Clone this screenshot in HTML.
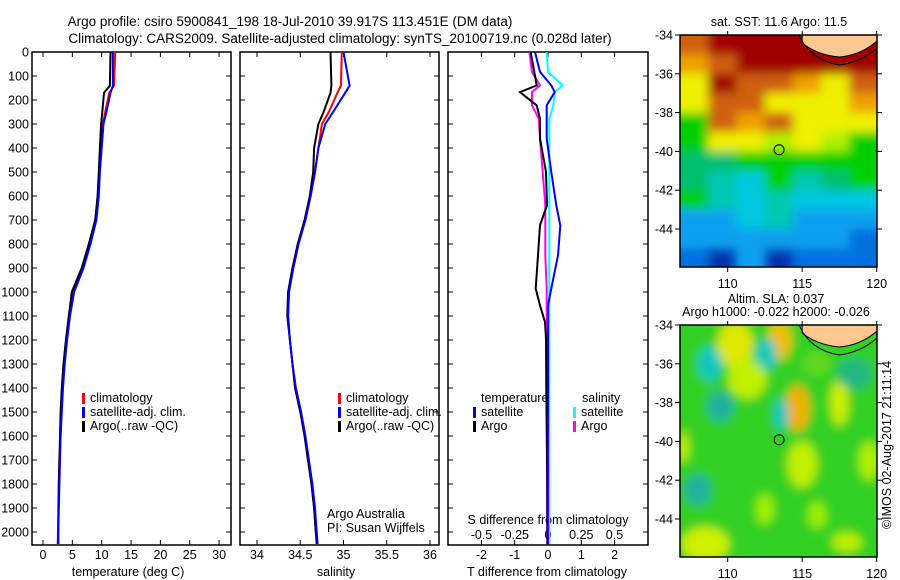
<!DOCTYPE html>
<html><head><meta charset="utf-8"><style>
body{margin:0;background:#fff;}
svg{display:block;font-family:"Liberation Sans",sans-serif;}
</style></head><body>
<svg id="chart" width="900" height="580" viewBox="0 0 900 580" xmlns="http://www.w3.org/2000/svg">
<defs>
<filter id="blur1" x="0" y="0" width="100%" height="100%"><feGaussianBlur stdDeviation="5"/></filter>
<filter id="blur2" x="-20%" y="-20%" width="140%" height="140%"><feGaussianBlur stdDeviation="5"/></filter>
<clipPath id="m1c"><rect x="680" y="35" width="197" height="232"/></clipPath>
<clipPath id="m2c"><rect x="680" y="325" width="197" height="232"/></clipPath>
</defs>
<text x="290" y="26" font-size="13.5" text-anchor="middle">Argo profile: csiro 5900841_198 18-Jul-2010 39.917S 113.451E (DM data)</text>
<text x="340" y="43" font-size="13.5" text-anchor="middle">Climatology: CARS2009. Satellite-adjusted climatology: synTS_20100719.nc (0.028d later)</text>
<g id="g"></g>
</svg>
<script>
// ---- data ----
const depths = [0,140,170,250,300,400,500,600,700,800,900,1000,1100,1200,1300,1400,1500,1600,1700,1800,1900,2000,2050];
const tempArgo = [11.5,11.4,10.4,10.1,9.9,9.7,9.5,9.3,8.9,7.8,6.6,4.9,4.4,3.9,3.5,3.2,3.0,2.9,2.8,2.7,2.65,2.6,2.6];
const tempClim = [12.3,12.1,11.3,10.6,10.2,9.9,9.6,9.4,9.0,8.0,6.8,5.1,4.5,4.0,3.6,3.3,3.1,3.0,2.8,2.7,2.6,2.55,2.5];
const tempSat  = [11.9,11.9,11.5,10.8,10.3,10.0,9.7,9.5,9.1,8.1,6.9,5.3,4.6,4.1,3.7,3.4,3.2,3.0,2.9,2.8,2.7,2.6,2.6];
const salArgo = [34.85,34.86,34.85,34.77,34.71,34.66,34.65,34.61,34.55,34.47,34.41,34.36,34.35,34.38,34.41,34.44,34.50,34.55,34.59,34.63,34.66,34.68,34.69];
const salClim = [34.98,34.97,34.93,34.83,34.75,34.71,34.67,34.62,34.56,34.48,34.42,34.37,34.36,34.38,34.41,34.44,34.50,34.55,34.59,34.63,34.66,34.68,34.70];
const salSat  = [35.0,35.07,35.02,34.88,34.79,34.71,34.67,34.62,34.56,34.48,34.42,34.37,34.36,34.38,34.41,34.45,34.51,34.56,34.60,34.64,34.67,34.69,34.70];
const diffDepths = [0,83,139,167,222,278,361,500,639,722,847,986,1056,1125,1194,1400,1700,2050];
const dTempArgo = [-0.52,-0.41,-0.34,-0.84,-0.34,-0.24,-0.24,-0.06,-0.03,-0.24,-0.3,-0.37,-0.24,-0.09,-0.06,-0.05,-0.03,-0.02];
const dTempSat  = [-0.39,-0.24,0.1,0.2,-0.04,-0.04,-0.04,0.1,0.25,0.37,0.3,0.1,0.0,0.0,0.0,0.0,-0.01,-0.01];
const dSalArgo  = [-0.14,-0.12,-0.06,-0.12,-0.12,-0.07,-0.06,-0.04,-0.02,-0.02,-0.02,-0.01,-0.01,-0.01,-0.01,0,0,0];
const dSalSat   = [-0.01,0.0,0.11,0.05,0.04,0.01,0.01,0.01,0.01,0.01,0.01,0.01,0.01,0.01,0.01,0.01,0.01,0.01];
const depthTicks = [0,100,200,300,400,500,600,700,800,900,1000,1100,1200,1300,1400,1500,1600,1700,1800,1900,2000];
const tempTicks = [0,5,10,15,20,25,30];
const salTicks = [34,34.5,35,35.5,36];
const tdTicks = [-2,-1,0,1,2];
const sdTicks = [-0.5,-0.25,0,0.25,0.5];
const sdTickLabels = ["-0.5","-0.25","0","0.25","0.5"];
const lonTicks = [110,115,120];
const latTicks = [-34,-36,-38,-40,-42,-44];
const argoLon = 113.451, argoLat = -39.917;

// ---- helpers ----
const NS="http://www.w3.org/2000/svg";
const G=document.getElementById('g');
function mk(tag,attrs,parent){const e=document.createElementNS(NS,tag);for(const k in attrs)e.setAttribute(k,attrs[k]);(parent||G).appendChild(e);return e;}
const TOP=52, BOT=545;
const yD = d => TOP + d*0.24;
const xT = t => 43 + t*5.87;
const xS = s => 257 + (s-34)*86.5;
const xTD = t => 548 + t*33.3;
const xSD = s => 548 + s*133;

function panel(x0,x1,name){
  const r=mk('rect',{x:x0,y:TOP,width:x1-x0,height:BOT-TOP,fill:'none',stroke:'#000','stroke-width':1.5});
  
  
}
panel(32,231,'temperature-panel');
panel(240,439,'salinity-panel');
panel(448,648,'difference-panel');

depthTicks.forEach(d=>{
  const y=yD(d);
  const t=mk('text',{x:29,y:y+4.5,'font-size':12.5,'text-anchor':'end'});
  t.textContent=d;
  
  
  [[32,37],[226,231],[240,245],[434,439],[448,453],[643,648]].forEach(p=>mk('line',{x1:p[0],x2:p[1],y1:y,y2:y,stroke:'#000'}));
});
function xticks(ticks,fx,labels,ly){
  ticks.forEach((v,i)=>{
    const x=fx(v);
    mk('line',{x1:x,x2:x,y1:BOT,y2:BOT-5,stroke:'#000'});
    mk('line',{x1:x,x2:x,y1:TOP,y2:TOP+5,stroke:'#000'});
    const t=mk('text',{x:x,y:ly,'font-size':12.5,'text-anchor':'middle'});
    t.textContent=labels?labels[i]:v;
    
    
  });
}
xticks(tempTicks,xT,null,559);
xticks(salTicks,xS,null,559);
xticks(tdTicks,xTD,null,559);
sdTicks.forEach((v,i)=>{
  const t=mk('text',{x:xSD(v),y:539,'font-size':12.5,'text-anchor':'middle'});
  t.textContent=sdTickLabels[i];
  
  
});
function label(txt,x,y,name,anchor){
  const t=mk('text',{x:x,y:y,'font-size':12.5,'text-anchor':anchor||'middle'});
  t.textContent=txt;
  
  
  return t;
}
label('temperature (deg C)',128,576,'x-axis-title-temperature');
label('salinity',336,576,'x-axis-title-salinity');
label('T difference from climatology',547,576,'x-axis-title-t-diff');
label('S difference from climatology',548,524,'x-axis-title-s-diff');
label('Argo Australia',327,518,'credit-argo-australia','start');
label('PI: Susan Wijffels',327,532,'credit-pi','start');

function line(xs,ds,fx,color,name,w){
  const pts=xs.map((v,i)=>fx(v).toFixed(1)+','+yD(ds[i]).toFixed(1)).join(' ');
  const p=mk('polyline',{points:pts,fill:'none',stroke:color,'stroke-width':w||2,'stroke-linejoin':'miter'});
  
  
}
line(tempClim,depths,xT,'#f00','temp-climatology-line');
line(tempArgo,depths,xT,'#000','temp-argo-line');
line(tempSat,depths,xT,'#00f','temp-satellite-line');
line(salClim,depths,xS,'#f00','sal-climatology-line');
line(salArgo,depths,xS,'#000','sal-argo-line');
line(salSat,depths,xS,'#00f','sal-satellite-line');
line(dSalSat,diffDepths,xSD,'#0ff','sdiff-satellite-line');
line(dSalArgo,diffDepths,xSD,'#f0f','sdiff-argo-line');
line(dTempArgo,diffDepths,xTD,'#000','tdiff-argo-line');
line(dTempSat,diffDepths,xTD,'#00f','tdiff-satellite-line');

function legend(x,y,color,txt,name){
  mk('rect',{x:x,y:y-9,width:3,height:11,fill:color});
  label(txt,x+8,y,name,'start');
}
legend(82,402,'#f00','climatology','legend-climatology');
legend(82,416,'#00f','satellite-adj. clim.','legend-satellite-adj');
legend(82,430,'#000','Argo(..raw -QC)','legend-argo');
legend(338,402,'#f00','climatology','legend2-climatology');
legend(338,416,'#00f','satellite-adj. clim.','legend2-satellite-adj');
legend(338,430,'#000','Argo(..raw -QC)','legend2-argo');
label('temperature',481,402,'legend-temperature-header','start');
label('salinity',582,402,'legend-salinity-header','start');
legend(473,416,'#00f','satellite','legend-t-satellite');
legend(473,430,'#000','Argo','legend-t-argo');
legend(573,416,'#0ff','satellite','legend-s-satellite');
legend(573,430,'#f0f','Argo','legend-s-argo');

// ---- maps ----
const C={R:'#a00000',O:'#d06010',A:'#f0a000',Y:'#f0f000',L:'#b0f000',G:'#00d000',E:'#00c070',T:'#00c8b0',C:'#00c8e0',B:'#10a0f0',U:'#0070e0',D:'#0030b0'};
const sstGrid=["ORRRRRR","AORRRRR","YROOAYO","YOOYYYA","GOAOYYY","GYYLYLG","EEGGGGG","ETCGTEG","GTCTCCC","BBCTBBB","BBBBBBU","UDBDUUU"];
const lonX = lon => 680 + (lon-106.8)*14.9;
const latY = (lat,top) => top + (-34-lat)*19.4;
function mapFrame(top,clip,name){
  const g=mk('g',{'clip-path':'url(#'+clip+')'});
  
  
  return g;
}
const m1=mapFrame(35,'m1c','sst-map');
const m1b=mk('g',{filter:'url(#blur1)'},m1);
mk('rect',{x:660,y:15,width:240,height:270,fill:'#00c070'},m1b);
sstGrid.forEach((row,r)=>{[...row].forEach((ch,c)=>{
  mk('rect',{x:680+c*28.2-(c==0?20:0),y:35+r*19.4-(r==0?20:0),width:28.2+(c==0||c==6?20:0),height:19.4+(r==0||r==11?20:0),fill:C[ch]},m1b);
});});
function land(top,g){
  mk('path',{d:`M${lonX(115)},${top} L${lonX(115)},${top+8} Q${lonX(116)},${top+20} ${lonX(117.5)},${top+22} Q${lonX(119)},${top+20} ${lonX(120.1)},${top+5} L${lonX(120.1)},${top} Z`,fill:'#fcc890',stroke:'#000','stroke-width':1},g);
  mk('path',{d:`M${lonX(114.8)},${top} Q${lonX(115.5)},${top+25} ${lonX(117.5)},${top+30} Q${lonX(119)},${top+27} ${lonX(120.1)},${top+12}`,fill:'none',stroke:'#000','stroke-width':1},g);
}
land(35,m1);
const m2=mapFrame(325,'m2c','sla-map');
const m2b=mk('g',{filter:'url(#blur2)'},m2);
mk('rect',{x:670,y:315,width:220,height:260,fill:'#30d020'},m2b);
const slaBlobs=[[110.5,-35,1.2,1.2,'#e0e800'],[113.5,-34.8,0.8,1,'#f0c000'],[111.3,-36.8,1.3,1,'#c0f000'],[108.8,-36,0.8,0.9,'#10c8c0'],[112.6,-35.5,0.7,0.8,'#10c8c0'],[114.7,-38.3,0.8,1.2,'#f0b000'],[113.6,-38.6,0.5,0.8,'#10c8c0'],[109.5,-38.2,0.9,0.8,'#20b0a0'],[117.5,-38,0.6,1.2,'#d0f000'],[115,-41.2,1.0,1.2,'#c0f000'],[119.5,-41,0.7,1.0,'#b0f000'],[108,-42.5,0.9,0.8,'#20b0a0'],[107,-40.3,0.4,0.8,'#c0f000'],[108.5,-45.3,1.6,0.9,'#d0f000'],[112.5,-43.5,0.6,0.8,'#a0f000'],[116,-43.8,0.6,0.7,'#a0f000'],[118.5,-36.5,1.2,0.8,'#20b880'],[116,-36,1,0.6,'#60d820'],[118,-45.2,1.0,0.5,'#c0f000']];
slaBlobs.forEach(b=>mk('ellipse',{cx:lonX(b[0]),cy:latY(b[1],325),rx:b[2]*14.9,ry:b[3]*19.4,fill:b[4]},m2b));
land(325,m2);

function mapAxes(top,name){
  const r=mk('rect',{x:680,y:top,width:197,height:232,fill:'none',stroke:'#000','stroke-width':1.5});
  
  
  latTicks.forEach(l=>{
    const y=latY(l,top);
    mk('line',{x1:675,x2:680,y1:y,y2:y,stroke:'#000'});
    mk('line',{x1:877,x2:882,y1:y,y2:y,stroke:'#000'});
    label(l,673,y+4.5,'lat-tick-label','end');
  });
  lonTicks.forEach(l=>{
    const x=lonX(l);
    mk('line',{x1:x,x2:x,y1:top+232,y2:top+237,stroke:'#000'});
    mk('line',{x1:x,x2:x,y1:top,y2:top-4,stroke:'#000'});
    label(l,x,top+253,'lon-tick-label');
  });
  mk('circle',{cx:lonX(argoLon),cy:latY(argoLat,top),r:5,fill:'none',stroke:'#000','stroke-width':1});
}
mapAxes(35,'sst-map-frame');
mapAxes(325,'sla-map-frame');
label('sat. SST: 11.6 Argo: 11.5',779,26,'sst-map-title');
label('Altim. SLA: 0.037',776,303,'sla-map-title-1');
label('Argo h1000: -0.022 h2000: -0.026',776,316,'sla-map-title-2');
const cr=label('©IMOS 02-Aug-2017 21:11:14',0,0,'copyright-timestamp');
cr.setAttribute('transform','translate(891,445) rotate(-90)');
</script>
</body></html>
